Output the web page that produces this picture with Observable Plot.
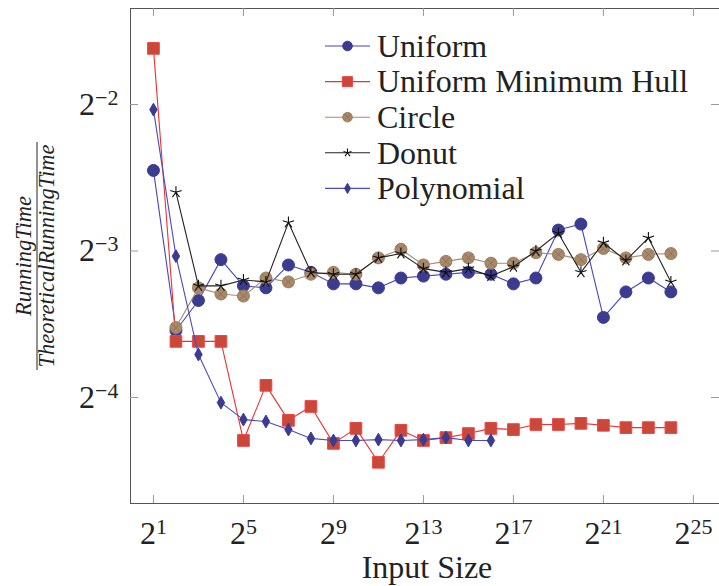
<!DOCTYPE html>
<html>
<head>
<meta charset="utf-8">
<script src="https://cdn.jsdelivr.net/npm/d3@7"></script>
<script src="https://cdn.jsdelivr.net/npm/@observablehq/plot@0.6"></script>
<style>
  html, body { margin: 0; padding: 0; background: #fff; }
</style>
</head>
<body>
<div id="chart"></div>
<script>
// Input sizes as powers of two (exponents)
const exponents = [1,2,3,4,5,6,7,8,9,10,11,12,13,14,15,16,17,18,19,20,21,22,23,24];

// Running time / theoretical running time, one value per input size
const uniform = [0.183,0.0858,0.0989,0.120,0.106,0.105,0.117,0.113,0.107,0.107,0.105,0.110,
                 0.111,0.112,0.113,0.112,0.107,0.110,0.138,0.142,0.0913,0.103,0.110,0.103];
const uniformMinHull = [0.326,0.0815,0.0815,0.0815,0.0510,0.0662,0.0561,0.0599,0.0503,0.0540,0.0460,0.0535,
                        0.0510,0.0517,0.0527,0.0540,0.0537,0.0550,0.0550,0.0553,0.0548,0.0542,0.0542,0.0542];
const circle = [null,0.0870,0.105,0.102,0.101,0.110,0.108,0.112,0.113,0.112,0.121,0.126,
                0.117,0.119,0.121,0.118,0.118,0.124,0.123,0.120,0.1265,0.121,0.123,0.1235];
const donut = [null,0.165,0.106,0.106,0.109,0.108,0.143,0.113,0.112,0.112,0.121,0.1235,
               0.115,0.113,0.115,0.111,0.116,0.125,0.136,0.113,0.130,0.1195,0.133,0.108];
const polynomial = [0.244,0.122,0.0766,0.0610,0.0563,0.0558,0.0537,0.0515,0.0510,0.0510,0.0512,0.0510,
                    0.0512,0.0517,0.0510,0.0510];

// Tick positions
const xTickExponents = [1,5,9,13,17,21,25];
const yTickExponents = [-4,-3,-2];

const SERIF = "'Liberation Serif', 'DejaVu Serif', serif";

// Five-pointed star made of rays (pgf "star" mark)
const star5 = {
  draw(context, size) {
    const r = Math.sqrt(size / Math.PI);
    for (let k = 0; k < 5; ++k) {
      const a = -Math.PI / 2 + k * 2 * Math.PI / 5;
      context.moveTo(0, 0);
      context.lineTo(r * Math.cos(a), r * Math.sin(a));
    }
  }
};

function rows(values) {
  return values
    .map((v, i) => ({size: 2 ** exponents[i], value: v}))
    .filter(d => d.value != null);
}

const series = [
  {name: "Uniform", data: rows(uniform), line: "#4545c4",
   marks: [{symbol: "circle", r: 6, fill: "#3b3b8f", stroke: "#3b3b8f", legendR: 4.8}]},
  {name: "Uniform Minimum Hull", data: rows(uniformMinHull), line: "#f03030",
   marks: [{symbol: "square", r: 6.6, fill: "#c9483a", stroke: "#f04444", legendR: 5.6}]},
  {name: "Circle", data: rows(circle), line: "#a68c70",
   marks: [{symbol: "circle", r: 6, fill: "#a8896b", stroke: "#9a7c5e", legendR: 4.8},
           {symbol: "times", r: 4, fill: "none", stroke: "#8a6c50", strokeWidth: 0.8, legendR: 3.2}]},
  {name: "Donut", data: rows(donut), line: "#222222",
   marks: [{symbol: star5, r: 6, fill: "none", stroke: "#111", strokeWidth: 1.1, legendR: 4.2}]},
  {name: "Polynomial", data: rows(polynomial), line: "#4a4ac2",
   marks: [{symbol: "diamond", r: 3.9, fill: "#3b3b8f", stroke: "#3b3b8f", legendR: 3.1}]}
];

const xDomain = [2 ** -0.02, 2 ** 26.16];
const yDomain = [2 ** -4.7235, 2 ** -1.3447];
const frameW = 589, frameH = 495, tickLen = 8;

const marks = [
  Plot.ruleX([xDomain[0]], {stroke: "#555"}),
  Plot.ruleY([yDomain[0]], {stroke: "#555"}),
  Plot.ruleY([yDomain[1]], {stroke: "#555"}),
  Plot.tickX(xTickExponents.map(e => 2 ** e), {x: d => d, stroke: "#999", insetTop: frameH - tickLen}),
  Plot.tickX(xTickExponents.map(e => 2 ** e), {x: d => d, stroke: "#999", insetBottom: frameH - tickLen}),
  Plot.tickY(yTickExponents.map(e => 2 ** e), {y: d => d, stroke: "#999", insetRight: frameW - tickLen}),
  Plot.tickY(yTickExponents.map(e => 2 ** e), {y: d => d, stroke: "#999", insetLeft: frameW - tickLen}),
  Plot.axisX(xTickExponents.map(e => 2 ** e), {
    tickSize: 0, tickPadding: 18, fontSize: 32, label: null,
    tickFormat: d => String(Math.round(Math.log2(d)))
  }),
  Plot.axisY(yTickExponents.map(e => 2 ** e), {
    tickSize: 0, tickPadding: 12, fontSize: 32, label: null,
    tickFormat: d => String(Math.round(Math.log2(d)))
  })
];

for (const s of series) {
  marks.push(Plot.line(s.data, {x: "size", y: "value", stroke: s.line, strokeWidth: 1.1}));
  for (const m of s.marks) {
    marks.push(Plot.dot(s.data, {
      x: "size", y: "value", symbol: m.symbol, r: m.r,
      fill: m.fill, stroke: m.stroke, strokeWidth: m.strokeWidth ?? 1
    }));
  }
}

const svg = Plot.plot({
  width: 719,
  height: 586,
  marginLeft: 130,
  marginRight: 0,
  marginTop: 8,
  marginBottom: 83,
  x: {type: "log", base: 2, domain: xDomain},
  y: {type: "log", base: 2, domain: yDomain},
  style: {fontFamily: SERIF, background: "white", color: "#222"},
  marks
});

document.getElementById("chart").append(svg);
const root = d3.select(svg);

// Tick labels as 2 with a raised exponent
function superscript(selector) {
  root.selectAll(selector).each(function () {
    const exp = this.textContent.replace("-", "\u2212");
    const t = d3.select(this);
    t.text(null).attr("font-family", SERIF);
    t.append("tspan").text("2");
    t.append("tspan").attr("dy", "-0.45em").attr("font-size", 22).text(exp);
  });
}
superscript('g[aria-label="x-axis tick label"] text');
superscript('g[aria-label="y-axis tick label"] text');

// X axis title
root.append("text")
  .attr("x", 427).attr("y", 578)
  .attr("text-anchor", "middle")
  .attr("font-family", SERIF)
  .attr("font-size", 32)
  .attr("fill", "#222")
  .text("Input Size");

// Y axis title: a fraction set vertically
const yTitle = root.append("g")
  .attr("transform", "translate(37,256) rotate(-90)")
  .attr("font-family", SERIF)
  .attr("font-style", "italic")
  .attr("font-size", 22.5)
  .attr("fill", "#222")
  .attr("text-anchor", "middle");
yTitle.append("text").attr("y", -6).text("RunningTime");
yTitle.append("line").attr("x1", -114).attr("x2", 114).attr("stroke", "#222").attr("stroke-width", 1);
yTitle.append("text").attr("y", 17).text("TheoreticalRunningTime");

// Legend
const legend = root.append("g")
  .attr("font-family", SERIF)
  .attr("font-size", 32)
  .attr("text-anchor", "start")
  .attr("fill", "#222");
series.forEach((s, i) => {
  const cy = 46 + i * 35.6;
  const g = legend.append("g").attr("transform", `translate(0,${cy})`);
  g.append("line").attr("x1", 325).attr("x2", 370).attr("stroke", s.line).attr("stroke-width", 1.1);
  for (const m of s.marks) {
    const type = typeof m.symbol === "string"
      ? {circle: d3.symbolCircle, square: d3.symbolSquare, times: d3.symbolTimes, diamond: d3.symbolDiamond}[m.symbol]
      : m.symbol;
    g.append("path")
      .attr("transform", "translate(347.5,0)")
      .attr("d", d3.symbol(type, Math.PI * m.legendR * m.legendR)())
      .attr("fill", m.fill)
      .attr("stroke", m.stroke)
      .attr("stroke-width", m.strokeWidth ?? 1);
  }
  g.append("text").attr("x", 377).attr("dy", "0.34em").attr("text-anchor", "start").text(s.name);
});
</script>
</body>
</html>
